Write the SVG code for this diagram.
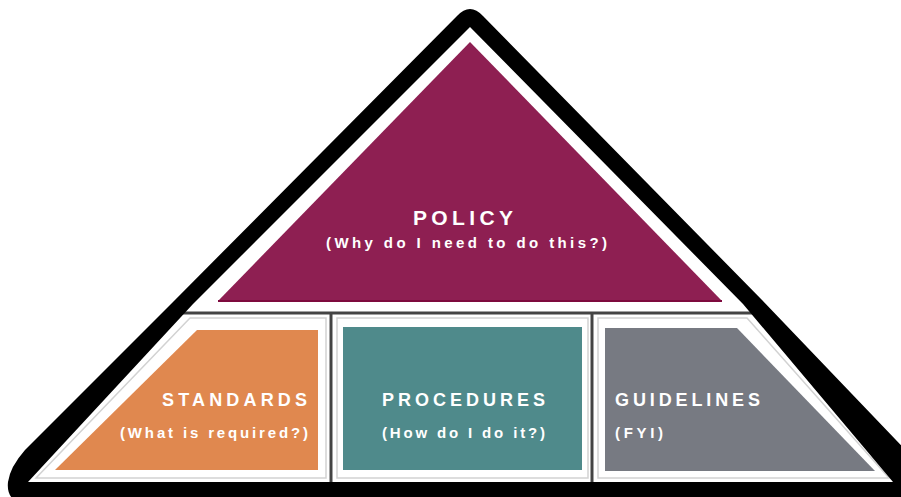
<svg xmlns="http://www.w3.org/2000/svg" width="901" height="497" viewBox="0 0 901 497">
<style>
.t{font-family:"Liberation Sans",Arial,sans-serif;font-weight:bold;fill:#ffffff}
.frame{fill:#ffffff;stroke:#d2d2d2;stroke-width:1.5}
.div{stroke:#444444;stroke-width:3}
</style>
<rect width="901" height="497" fill="#ffffff"/>
<g id="frames">
<polygon class="frame" points="190,318 326,318 326,478 36,478"/>
<rect class="frame" x="337" y="318" width="251" height="160"/>
<polygon class="frame" points="598,318 747,318 889,478 598,478"/>
</g>
<g id="connectors">
<line class="div" x1="180" y1="313" x2="760" y2="313"/>
<line class="div" x1="331" y1="313" x2="331" y2="484"/>
<line class="div" x1="592" y1="313" x2="592" y2="484"/>
</g>
<g id="policy">
<polygon points="470,42 722,301 218,301" fill="#8E1F52"/>
<line x1="218" y1="301" x2="722" y2="301" stroke="#7E0A3E" stroke-width="2"/>
<text class="t" x="413" y="225" font-size="21" textLength="100" lengthAdjust="spacing">POLICY</text>
<text class="t" x="326" y="248" font-size="15" textLength="281" lengthAdjust="spacing">(Why do I need to do this?)</text>
</g>
<g id="standards">
<polygon points="197,330 318,330 318,470 55,470" fill="#E0884F"/>
<text class="t" x="162" y="406" font-size="18" textLength="145" lengthAdjust="spacing">STANDARDS</text>
<text class="t" x="120" y="438" font-size="15" textLength="188" lengthAdjust="spacing">(What is required?)</text>
</g>
<g id="procedures">
<rect x="343" y="327" width="239" height="143" fill="#4F8A8B"/>
<text class="t" x="382" y="406" font-size="18" textLength="163" lengthAdjust="spacing">PROCEDURES</text>
<text class="t" x="382" y="438" font-size="15" textLength="163" lengthAdjust="spacing">(How do I do it?)</text>
</g>
<g id="guidelines">
<polygon points="605,328 737,328 875,471 605,471" fill="#777A82"/>
<text class="t" x="615" y="406" font-size="18" textLength="145" lengthAdjust="spacing" fill="#eeeeee">GUIDELINES</text>
<text class="t" x="615" y="438" font-size="15" textLength="48" lengthAdjust="spacing" fill="#eeeeee">(FYI)</text>
</g>
<g id="outline">
<path fill="#000000" fill-rule="evenodd" d="M 457,16 Q 470,2 483,16 L 762,300 L 915,460 L 915,505 L 24,505 Q 6,500 8,482 Q 10,467 25,450 L 173,302 Z M 470,27 L 743,304 L 893,482 L 28,482 L 193,304 Z"/>
</g>
</svg>
